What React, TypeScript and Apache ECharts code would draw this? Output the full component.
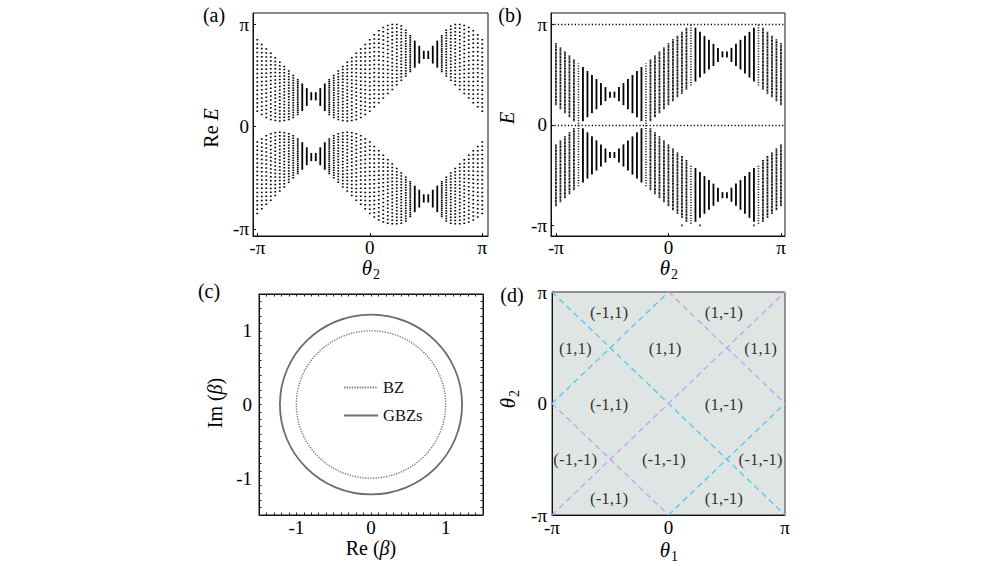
import React, { useEffect, useRef } from 'react';
import * as echarts from 'echarts';

// ---------- data (energies and angles in units of π) ----------
const THETA = [
  -1, -0.96, -0.92, -0.88, -0.84, -0.8, -0.76, -0.72, -0.68, -0.64, -0.6, -0.56, -0.52,
  -0.48, -0.44, -0.4, -0.36, -0.32, -0.28, -0.24, -0.2, -0.16, -0.12, -0.08, -0.04, 0,
  0.04, 0.08, 0.12, 0.16, 0.2, 0.24, 0.28, 0.32, 0.36, 0.4, 0.44, 0.48,
  0.52, 0.56, 0.6, 0.64, 0.68, 0.72, 0.76, 0.8, 0.84, 0.88, 0.92, 0.96, 1,
];

// (a) Re E : upper band
const A_UP_LO = [
  0.15, 0.12, 0.09, 0.07, 0.06, 0.055, 0.06, 0.07, 0.09, 0.12, 0.16, 0.21, 0.265,
  0.265, 0.21, 0.16, 0.12, 0.09, 0.07, 0.06, 0.055, 0.06, 0.07, 0.09, 0.12, 0.15,
  0.195, 0.235, 0.28, 0.325, 0.365, 0.41, 0.455, 0.495, 0.54, 0.585, 0.625, 0.67,
  0.67, 0.625, 0.585, 0.54, 0.495, 0.455, 0.41, 0.365, 0.325, 0.28, 0.235, 0.195, 0.15,
];
const A_UP_HI = [
  0.85, 0.805, 0.76, 0.72, 0.675, 0.63, 0.59, 0.545, 0.5, 0.46, 0.415, 0.37, 0.33,
  0.33, 0.37, 0.415, 0.46, 0.5, 0.545, 0.59, 0.63, 0.675, 0.72, 0.76, 0.805, 0.85,
  0.9, 0.94, 0.97, 0.99, 1.0, 1.0, 0.985, 0.945, 0.89, 0.835, 0.785, 0.735,
  0.735, 0.785, 0.835, 0.89, 0.945, 0.985, 1.0, 1.0, 0.99, 0.97, 0.94, 0.9, 0.85,
];
// (a) Re E : lower band
const A_LOW_LO = [
  -0.85, -0.805, -0.76, -0.72, -0.675, -0.63, -0.59, -0.545, -0.5, -0.46, -0.415, -0.37, -0.33,
  -0.33, -0.37, -0.415, -0.46, -0.5, -0.545, -0.59, -0.63, -0.675, -0.72, -0.76, -0.805, -0.85,
  -0.885, -0.915, -0.935, -0.945, -0.95, -0.95, -0.945, -0.925, -0.88, -0.83, -0.785, -0.735,
  -0.735, -0.785, -0.83, -0.88, -0.925, -0.945, -0.95, -0.95, -0.945, -0.935, -0.915, -0.885, -0.85,
];
const A_LOW_HI = [
  -0.15, -0.12, -0.09, -0.07, -0.06, -0.055, -0.06, -0.07, -0.09, -0.12, -0.16, -0.21, -0.265,
  -0.265, -0.21, -0.16, -0.12, -0.09, -0.07, -0.06, -0.055, -0.06, -0.07, -0.09, -0.12, -0.15,
  -0.195, -0.235, -0.28, -0.325, -0.365, -0.41, -0.455, -0.495, -0.54, -0.585, -0.625, -0.67,
  -0.67, -0.625, -0.585, -0.54, -0.495, -0.455, -0.41, -0.365, -0.325, -0.28, -0.235, -0.195, -0.15,
];

// (b) E : upper band (null = column drawn among the crossing columns)
const B_UP_LO = [
  0.2, 0.16, 0.12, 0.08, 0.04, null, 0.04, 0.08, 0.12, 0.16, 0.2, 0.24, 0.275,
  0.275, 0.24, 0.2, 0.16, 0.12, 0.08, 0.04, null, 0.04, 0.08, 0.12, 0.16, 0.2,
  0.24, 0.28, 0.315, 0.355, null, 0.435, 0.475, 0.515, 0.555, 0.59, 0.63, 0.675,
  0.675, 0.63, 0.59, 0.555, 0.515, 0.475, 0.435, null, 0.355, 0.315, 0.28, 0.24, 0.2,
];
const B_UP_HI = [
  0.805, 0.765, 0.725, 0.685, 0.645, null, 0.57, 0.53, 0.49, 0.45, 0.41, 0.37, 0.325,
  0.325, 0.37, 0.41, 0.45, 0.49, 0.53, 0.57, null, 0.645, 0.685, 0.725, 0.765, 0.805,
  0.845, 0.88, 0.92, 0.96, null, 0.96, 0.92, 0.88, 0.84, 0.8, 0.76, 0.725,
  0.725, 0.76, 0.8, 0.84, 0.88, 0.92, 0.96, null, 0.96, 0.92, 0.88, 0.845, 0.805,
];
// (b) E : lower band
const B_LOW_LO = [
  -0.805, -0.765, -0.725, -0.685, -0.645, null, -0.57, -0.53, -0.49, -0.45, -0.41, -0.37, -0.325,
  -0.325, -0.37, -0.41, -0.45, -0.49, -0.53, -0.57, null, -0.645, -0.685, -0.725, -0.765, -0.805,
  -0.845, -0.88, -0.92, -0.96, null, -0.96, -0.92, -0.88, -0.84, -0.8, -0.76, -0.725,
  -0.725, -0.76, -0.8, -0.84, -0.88, -0.92, -0.96, null, -0.96, -0.92, -0.88, -0.845, -0.805,
];
const B_LOW_HI = [
  -0.2, -0.16, -0.12, -0.08, -0.04, null, -0.04, -0.08, -0.12, -0.16, -0.2, -0.24, -0.275,
  -0.275, -0.24, -0.2, -0.16, -0.12, -0.08, -0.04, null, -0.04, -0.08, -0.12, -0.16, -0.2,
  -0.24, -0.28, -0.315, -0.355, null, -0.435, -0.475, -0.515, -0.555, -0.59, -0.63, -0.675,
  -0.675, -0.63, -0.59, -0.555, -0.515, -0.475, -0.435, null, -0.355, -0.315, -0.28, -0.24, -0.2,
];
// (b) columns that cross E = 0 or reach E = ±π
const B_CROSS_THETA = [-0.8, -0.2, 0.2, 0.2, 0.8, 0.8];
const B_CROSS_LO = [-0.605, -0.605, 0.395, -0.98, 0.395, -0.98];
const B_CROSS_HI = [0.605, 0.605, 1.0, -0.395, 1.0, -0.395];
// (b) flat edge-state levels and isolated points
const B_EDGE_LEVELS = [1, 0];
const B_PI_DOTS_THETA = [0.12, 0.28, 0.76];
const B_PI_DOTS_E = [-1, -1, -1];

// (c) Brillouin zone and generalized Brillouin zones (radius)
const C_CENTER = [0, 0];
const BZ_RADIUS = [1.0];
const GBZ_RADIUS = [1.22];

// (d) phase boundaries [x1, y1, x2, y2] in units of π
const D_CYAN = [[-1, 1, 1, -1], [-1, 0, 0, 1], [0, -1, 1, 0]];
const D_PURPLE = [[-1, -1, 1, 1], [0, 1, 1, 0], [-1, 0, 0, -1]];
const D_LABEL_TEXT = ['(-1,1)', '(1,-1)', '(1,1)', '(1,1)', '(1,1)', '(-1,1)', '(1,-1)', '(-1,-1)', '(-1,-1)', '(-1,-1)', '(-1,1)', '(1,-1)'];
const D_LABEL_X = [-0.51, 0.475, -0.8, -0.03, 0.79, -0.51, 0.475, -0.8, -0.04, 0.79, -0.51, 0.475];
const D_LABEL_Y = [0.82, 0.82, 0.495, 0.495, 0.495, -0.01, -0.01, -0.505, -0.505, -0.505, -0.85, -0.85];

const PI_TICKS = [-1, 0, 1];
const C_TICK_LABELS = [-1, 0, 1];

// ---------- helpers ----------
const FONT = "'Liberation Serif', 'Times New Roman', serif";

const piFmt = (v: number) => (v > 0.5 ? 'π' : v < -0.5 ? '-π' : '0');

const columns = (th: number[], lo: (number | null)[], hi: (number | null)[]) =>
  th.map((t, i) => [t, lo[i], hi[i]]).filter((d) => d[1] != null && d[2] != null);

const columnRenderer = (dots: number, dot: number, width: number, fixedStep?: number) =>
  (params: any, api: any) => {
    const t = api.value(0);
    const lo = api.value(1);
    const hi = api.value(2);
    const p = api.coord([t, lo]);
    const q = api.coord([t, hi]);
    const len = Math.abs(p[1] - q[1]);
    const step = fixedStep ? fixedStep : len / (dots - 1);
    const gap = step - dot;
    const style: any = { stroke: '#000', lineWidth: width, fill: null };
    if (gap > 0.35) style.lineDash = [dot, gap];
    return {
      type: 'line',
      shape: { x1: p[0], y1: p[1] + dot / 2, x2: q[0], y2: q[1] - dot / 2 },
      style,
    };
  };

const ellipseRenderer = (color: string, width: number, dash?: number[]) =>
  (params: any, api: any) => {
    const c = api.coord([api.value(0), api.value(1)]);
    const r = api.value(2);
    const rx = api.size([r, 0])[0];
    const ry = api.size([0, r])[1];
    const style: any = { stroke: color, lineWidth: width, fill: 'none' };
    if (dash) style.lineDash = dash;
    return { type: 'ellipse', shape: { cx: c[0], cy: c[1], rx, ry }, style };
  };

const piAxis = (grid: number, min: number, max: number, margin: number, ticks: boolean) => ({
  type: 'value',
  gridIndex: grid,
  min,
  max,
  axisLine: { show: true, onZero: false, lineStyle: { color: '#111', width: 1 } },
  axisTick: { show: ticks, inside: true, length: 3, customValues: PI_TICKS, lineStyle: { color: '#111' } },
  axisLabel: { customValues: PI_TICKS, formatter: piFmt, color: '#000', fontFamily: FONT, fontSize: 19, margin },
  splitLine: { show: false },
});

const cAxis = (grid: number, position: string, labels: boolean, margin: number) => ({
  type: 'value',
  gridIndex: grid,
  position,
  min: -1.5,
  max: 1.5,
  interval: 0.1,
  axisLine: { show: true, onZero: false, lineStyle: { color: '#111', width: 1 } },
  axisTick: { show: true, inside: true, length: 2.5, lineStyle: { color: '#222' } },
  axisLabel: labels
    ? { customValues: C_TICK_LABELS, formatter: (v: number) => String(v), color: '#000', fontFamily: FONT, fontSize: 19, margin }
    : { show: false },
  splitLine: { show: false },
});

const text = (x: number, y: number, str: string, size: number, rot = 0, rich?: any) => ({
  type: 'text',
  x,
  y,
  rotation: rot,
  style: {
    text: str,
    fontFamily: FONT,
    fontSize: size,
    fill: '#000',
    align: 'center',
    verticalAlign: 'middle',
    textAlign: 'center',
    textVerticalAlign: 'middle',
    rich,
  },
});

const RICH = {
  n: { fontFamily: FONT, fontSize: 20, fill: '#000', color: '#000' },
  i: { fontFamily: FONT, fontSize: 20, fontStyle: 'italic', fill: '#000', color: '#000' },
};

const theta = (x: number, y: number, sub: string, rot = 0) => ({
  type: 'group',
  x,
  y,
  rotation: rot,
  children: [
    { type: 'text', x: 2, y: 0, style: { text: 'θ', fontFamily: FONT, fontSize: 21, fontStyle: 'italic', fill: '#000', align: 'right', verticalAlign: 'middle', textAlign: 'right', textVerticalAlign: 'middle' } },
    { type: 'text', x: 3, y: 6, style: { text: sub, fontFamily: FONT, fontSize: 14, fill: '#000', align: 'left', verticalAlign: 'middle', textAlign: 'left', textVerticalAlign: 'middle' } },
  ],
});

function buildOption() {
  return {
    animation: false,
    backgroundColor: '#fff',
    textStyle: { fontFamily: FONT },
    grid: [
      { left: 253, top: 13, width: 235, height: 223, show: true, borderColor: '#111', borderWidth: 1, containLabel: false, outerBoundsMode: 'none' },
      { left: 551, top: 13, width: 234, height: 223, show: true, borderColor: '#111', borderWidth: 1, containLabel: false, outerBoundsMode: 'none' },
      { left: 259, top: 294, width: 224, height: 221, show: true, borderColor: '#111', borderWidth: 1, containLabel: false, outerBoundsMode: 'none' },
      { left: 552, top: 292, width: 233, height: 223, show: true, borderColor: '#333', borderWidth: 1, backgroundColor: '#dfe5e3', containLabel: false, outerBoundsMode: 'none' },
    ],
    xAxis: [
      piAxis(0, -1.038, 1.051, 2, true),
      piAxis(1, -1.044, 1.036, 2, true),
      cAxis(2, 'bottom', true, 3),
      cAxis(2, 'top', false, 3),
      piAxis(3, -1, 1, 3, false),
    ],
    yAxis: [
      piAxis(0, -1.071, 1.113, 4, true),
      piAxis(1, -1.106, 1.112, 4, true),
      cAxis(2, 'left', true, 7),
      cAxis(2, 'right', false, 3),
      piAxis(3, -1, 1, 5, false),
    ],
    legend: {
      show: true,
      data: ['BZ', 'GBZs'],
      orient: 'vertical',
      left: 338,
      top: 374,
      itemWidth: 34,
      itemHeight: 12,
      itemGap: 11,
      selectedMode: false,
      itemStyle: { opacity: 0 },
      textStyle: { fontFamily: FONT, fontSize: 16.5, color: '#111' },
    },
    series: [
      // (a)
      { type: 'custom', xAxisIndex: 0, yAxisIndex: 0, silent: true, encode: { x: 0, y: [1, 2] }, renderItem: columnRenderer(18, 1.5, 1.8), data: columns(THETA, A_UP_LO, A_UP_HI) },
      { type: 'custom', xAxisIndex: 0, yAxisIndex: 0, silent: true, encode: { x: 0, y: [1, 2] }, renderItem: columnRenderer(18, 1.5, 1.8), data: columns(THETA, A_LOW_LO, A_LOW_HI) },
      // (b)
      { type: 'custom', xAxisIndex: 1, yAxisIndex: 1, silent: true, encode: { x: 0, y: [1, 2] }, renderItem: columnRenderer(45, 1.0, 1.8), data: columns(THETA, B_UP_LO, B_UP_HI) },
      { type: 'custom', xAxisIndex: 1, yAxisIndex: 1, silent: true, encode: { x: 0, y: [1, 2] }, renderItem: columnRenderer(45, 1.0, 1.8), data: columns(THETA, B_LOW_LO, B_LOW_HI) },
      { type: 'custom', xAxisIndex: 1, yAxisIndex: 1, silent: true, encode: { x: 0, y: [1, 2] }, renderItem: columnRenderer(0, 1.0, 1.6, 2.6), data: columns(B_CROSS_THETA, B_CROSS_LO, B_CROSS_HI) },
      {
        type: 'scatter', xAxisIndex: 1, yAxisIndex: 1, silent: true, symbol: 'rect', symbolSize: 1.8,
        itemStyle: { color: '#000' },
        data: B_PI_DOTS_THETA.map((t, i) => [t, B_PI_DOTS_E[i]]),
        markLine: {
          silent: true, symbol: ['none', 'none'], label: { show: false },
          lineStyle: { color: '#000', width: 1.3, type: [1.2, 2.2], opacity: 1 },
          emphasis: { disabled: true },
          data: B_EDGE_LEVELS.map((v) => ({ yAxis: v })),
        },
      },
      // (c)
      { type: 'custom', xAxisIndex: 2, yAxisIndex: 2, silent: true, renderItem: ellipseRenderer('#777', 1.4, [1.3, 1.3]), data: BZ_RADIUS.map((r) => [C_CENTER[0], C_CENTER[1], r]) },
      { type: 'custom', xAxisIndex: 2, yAxisIndex: 2, silent: true, renderItem: ellipseRenderer('#6c6c6c', 1.8), data: GBZ_RADIUS.map((r) => [C_CENTER[0], C_CENTER[1], r]) },
      { type: 'line', name: 'BZ', xAxisIndex: 2, yAxisIndex: 2, data: [], symbol: 'none', showSymbol: false, itemStyle: { color: '#777' }, lineStyle: { color: '#777', width: 1.4, type: [1.3, 1.3] } },
      { type: 'line', name: 'GBZs', xAxisIndex: 2, yAxisIndex: 2, data: [], symbol: 'none', showSymbol: false, itemStyle: { color: '#6c6c6c' }, lineStyle: { color: '#6c6c6c', width: 1.8 } },
      // (d)
      {
        type: 'lines', coordinateSystem: 'cartesian2d', xAxisIndex: 4, yAxisIndex: 4, silent: true, polyline: false,
        lineStyle: { color: '#55c5ee', width: 1.3, type: [6, 4], opacity: 1 },
        data: D_CYAN.map((s) => ({ coords: [[s[0], s[1]], [s[2], s[3]]] })),
      },
      {
        type: 'lines', coordinateSystem: 'cartesian2d', xAxisIndex: 4, yAxisIndex: 4, silent: true, polyline: false,
        lineStyle: { color: '#c6a0f0', width: 1.3, type: [6, 4], opacity: 1 },
        data: D_PURPLE.map((s) => ({ coords: [[s[0], s[1]], [s[2], s[3]]] })),
      },
      {
        type: 'scatter', xAxisIndex: 4, yAxisIndex: 4, silent: true, symbolSize: 1,
        itemStyle: { color: 'rgba(0,0,0,0)' },
        label: { show: true, position: 'inside', formatter: '{b}', fontFamily: FONT, fontSize: 17, color: '#000' },
        data: D_LABEL_TEXT.map((t, i) => ({ name: t, value: [D_LABEL_X[i], D_LABEL_Y[i]] })),
      },
    ],
    graphic: [
      text(214, 15, '(a)', 20),
      text(510, 15, '(b)', 20),
      text(209, 291, '(c)', 20),
      text(512, 295, '(d)', 20),
      text(211, 128, '{n|Re }{i|E}', 20, Math.PI / 2, RICH),
      text(507, 118, '{i|E}', 20, Math.PI / 2, RICH),
      text(215, 403, '{n|Im (}{i|β}{n|)}', 20, Math.PI / 2, RICH),
      text(371, 548, '{n|Re (}{i|β}{n|)}', 20, 0, RICH),
      theta(370, 268, '2'),
      theta(668, 268, '2'),
      theta(668, 550, '1'),
      theta(508, 400, '2', Math.PI / 2),
    ],
  };
}

export default function App() {
  const ref = useRef<HTMLDivElement>(null);
  useEffect(() => {
    if (!ref.current) return;
    const chart = echarts.init(ref.current, null, { renderer: 'svg' });
    chart.setOption(buildOption() as any);
    return () => chart.dispose();
  }, []);
  return (
    <div
      ref={ref}
      style={{ position: 'absolute', left: 0, top: 0, width: 996, height: 566, background: '#fff' }}
    />
  );
}
